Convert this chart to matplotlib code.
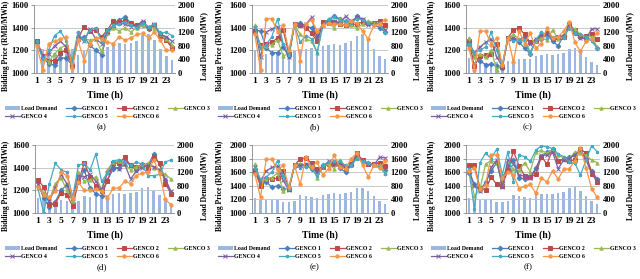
import matplotlib
matplotlib.use("Agg")
import matplotlib.pyplot as plt
from matplotlib.lines import Line2D
from matplotlib.patches import Patch

plt.rcParams["font.family"] = ["Liberation Serif", "DejaVu Serif"]
plt.rcParams["font.weight"] = "bold"

W, H = 640, 279

hours = list(range(1, 25))
xtick_hours = list(range(1, 24, 2))
names = ["GENCO 1", "GENCO 2", "GENCO 3", "GENCO 4", "GENCO 5", "GENCO 6"]
colors = ["#4A7EBB", "#BE4B48", "#98B954", "#7D60A0", "#46AAC5", "#F79646"]
markers = ["D", "s", "^", "x", (6, 2, 0), "o"]
BAR = "#9DB8DE"
GRID = "#BFBFBF"
AXIS = "#868686"

# load demand (MW), one list per case
load_a = [870, 700, 620, 600, 620, 650, 700, 520, 690, 720, 700, 670,
          770, 860, 870, 840, 880, 940, 1110, 1160, 970, 720, 490, 390]
load_b = [680, 560, 560, 540, 560, 600, 620, 640, 700, 720, 740, 720,
          780, 820, 860, 820, 880, 930, 1100, 1160, 960, 720, 500, 400]
load_c = [430, 330, 300, 290, 300, 330, 350, 360, 400, 420, 410, 400,
          490, 530, 550, 530, 560, 600, 720, 740, 630, 480, 330, 250]
load_d = [450, 390, 300, 320, 390, 350, 300, 350, 490, 480, 460, 450,
          520, 560, 590, 570, 590, 620, 750, 770, 650, 520, 360, 280]
load_e = [450, 380, 370, 390, 390, 330, 330, 340, 540, 510, 470, 440,
          520, 550, 580, 560, 580, 610, 730, 750, 640, 490, 340, 260]
load_f = [450, 390, 370, 390, 390, 330, 330, 350, 540, 500, 460, 440,
          520, 550, 570, 560, 580, 620, 740, 760, 640, 490, 340, 260]

# bidding price (RMB/MWh), rows = GENCO 1..6
price_a = [
    [1275, 1140, 1080, 1070, 1135, 1130, 1070, 1290, 1320, 1245, 1200, 1160,
     1350, 1410, 1465, 1495, 1440, 1410, 1420, 1390, 1420, 1350, 1305, 1230],
    [1285, 1150, 1110, 1110, 1180, 1200, 1060, 1300, 1410, 1370, 1380, 1320,
     1380, 1460, 1450, 1460, 1440, 1420, 1440, 1400, 1420, 1330, 1290, 1220],
    [1260, 1130, 1100, 1170, 1220, 1250, 1100, 1300, 1300, 1290, 1300, 1190,
     1350, 1400, 1370, 1400, 1360, 1400, 1420, 1410, 1400, 1340, 1300, 1250],
    [1270, 1140, 1170, 1240, 1280, 1230, 1080, 1340, 1280, 1390, 1300, 1260,
     1360, 1420, 1440, 1430, 1410, 1420, 1460, 1400, 1430, 1340, 1320, 1280],
    [1280, 1120, 1200, 1330, 1370, 1280, 1100, 1360, 1280, 1380, 1400, 1280,
     1380, 1420, 1430, 1450, 1420, 1400, 1440, 1410, 1430, 1350, 1360, 1330],
    [1235, 1030, 1260, 1280, 1300, 1320, 1040, 1290, 1110, 1260, 1310, 1300,
     1270, 1260, 1320, 1290, 1310, 1340, 1350, 1310, 1360, 1290, 1200, 1200],
]
price_b = [
    [1380, 1370, 1220, 1180, 1180, 1230, 1150, 1430, 1440, 1410, 1400, 1330,
     1440, 1470, 1500, 1480, 1460, 1430, 1500, 1470, 1440, 1430, 1400, 1360],
    [1370, 1250, 1260, 1270, 1310, 1380, 1170, 1430, 1420, 1400, 1350, 1280,
     1450, 1440, 1450, 1430, 1420, 1430, 1430, 1450, 1440, 1440, 1460, 1420],
    [1420, 1230, 1240, 1250, 1290, 1150, 1170, 1430, 1340, 1300, 1280, 1180,
     1420, 1440, 1400, 1480, 1430, 1420, 1400, 1430, 1460, 1440, 1440, 1360],
    [1400, 1140, 1360, 1390, 1410, 1240, 1140, 1430, 1420, 1430, 1490, 1300,
     1420, 1460, 1460, 1440, 1500, 1460, 1490, 1480, 1420, 1430, 1430, 1380],
    [1410, 1220, 1250, 1320, 1480, 1260, 1160, 1420, 1270, 1330, 1300, 1180,
     1420, 1480, 1490, 1470, 1460, 1440, 1480, 1470, 1440, 1420, 1440, 1350],
    [1340, 1030, 1480, 1480, 1360, 1420, 1200, 1430, 1110, 1430, 1470, 1370,
     1420, 1440, 1430, 1430, 1420, 1460, 1440, 1370, 1300, 1420, 1430, 1470],
]
price_c = [
    [1250, 1150, 1110, 1070, 1080, 1060, 1040, 1310, 1300, 1270, 1220, 1170,
     1280, 1300, 1340, 1280, 1240, 1330, 1400, 1350, 1320, 1300, 1300, 1220],
    [1280, 1060, 1150, 1160, 1170, 1260, 1050, 1310, 1380, 1400, 1340, 1270,
     1280, 1330, 1350, 1310, 1320, 1320, 1430, 1380, 1330, 1330, 1340, 1300],
    [1310, 1140, 1170, 1140, 1200, 1030, 1080, 1310, 1340, 1300, 1300, 1180,
     1280, 1310, 1290, 1380, 1300, 1330, 1400, 1390, 1340, 1320, 1320, 1230],
    [1270, 1180, 1230, 1270, 1300, 1140, 1060, 1300, 1310, 1290, 1320, 1260,
     1300, 1340, 1340, 1300, 1320, 1330, 1420, 1350, 1310, 1300, 1390, 1390],
    [1260, 1180, 1200, 1230, 1360, 1200, 1060, 1310, 1280, 1290, 1280, 1180,
     1290, 1360, 1310, 1320, 1320, 1310, 1400, 1350, 1340, 1320, 1280, 1220],
    [1220, 1030, 1370, 1370, 1250, 1310, 1070, 1310, 1100, 1370, 1260, 1350,
     1220, 1260, 1400, 1310, 1320, 1370, 1450, 1270, 1190, 1280, 1300, 1350],
]
price_d = [
    [1270, 1130, 1050, 1100, 1200, 1250, 1090, 1270, 1380, 1220, 1170, 1150,
     1290, 1390, 1400, 1460, 1420, 1380, 1430, 1420, 1520, 1430, 1290, 1180],
    [1290, 1230, 1080, 1080, 1180, 1160, 1060, 1280, 1440, 1320, 1240, 1190,
     1280, 1440, 1440, 1490, 1420, 1410, 1420, 1400, 1490, 1440, 1260, 1170],
    [1250, 1180, 1120, 1260, 1310, 1200, 1110, 1360, 1280, 1290, 1320, 1210,
     1380, 1450, 1460, 1430, 1380, 1410, 1420, 1440, 1400, 1380, 1340, 1300],
    [1260, 1140, 1110, 1220, 1340, 1260, 1130, 1330, 1320, 1340, 1280, 1200,
     1350, 1410, 1390, 1430, 1300, 1370, 1400, 1420, 1410, 1380, 1300, 1190],
    [1220, 1000, 1260, 1440, 1380, 1360, 1140, 1420, 1440, 1380, 1520, 1280,
     1350, 1460, 1470, 1450, 1420, 1450, 1430, 1330, 1330, 1340, 1450, 1470],
    [1230, 1160, 1140, 1190, 1360, 1330, 1130, 1270, 1200, 1200, 1210, 1190,
     1130, 1220, 1220, 1280, 1260, 1330, 1350, 1360, 1470, 1350, 1120, 1070],
]
price_e = [
    [1650, 1420, 1460, 1380, 1400, 1360, 1360, 1690, 1700, 1700, 1650, 1620,
     1700, 1700, 1750, 1660, 1600, 1700, 1830, 1770, 1730, 1720, 1740, 1630],
    [1620, 1400, 1500, 1500, 1510, 1620, 1360, 1700, 1800, 1810, 1730, 1640,
     1680, 1720, 1720, 1700, 1660, 1720, 1880, 1780, 1720, 1720, 1740, 1690],
    [1720, 1480, 1500, 1520, 1590, 1330, 1380, 1700, 1730, 1700, 1680, 1520,
     1680, 1720, 1650, 1780, 1680, 1700, 1820, 1770, 1740, 1700, 1700, 1590],
    [1680, 1470, 1620, 1670, 1690, 1480, 1340, 1700, 1700, 1720, 1720, 1600,
     1680, 1760, 1730, 1720, 1680, 1700, 1850, 1760, 1720, 1700, 1820, 1810],
    [1660, 1500, 1530, 1600, 1770, 1540, 1360, 1700, 1660, 1680, 1660, 1540,
     1700, 1750, 1760, 1760, 1700, 1700, 1800, 1760, 1740, 1700, 1680, 1580],
    [1570, 1230, 1790, 1790, 1630, 1700, 1380, 1700, 1420, 1820, 1670, 1750,
     1560, 1650, 1850, 1670, 1650, 1800, 1880, 1710, 1530, 1700, 1660, 1760],
]
price_f = [
    [1590, 1420, 1340, 1450, 1620, 1740, 1460, 1700, 1780, 1520, 1500, 1530,
     1660, 1820, 1900, 1920, 1760, 1790, 1820, 1850, 1930, 1800, 1620, 1500],
    [1700, 1700, 1370, 1340, 1530, 1420, 1400, 1630, 1910, 1690, 1550, 1530,
     1570, 1830, 1720, 1930, 1770, 1790, 1760, 1780, 1940, 1880, 1580, 1460],
    [1650, 1250, 1350, 1720, 1770, 1740, 1430, 1770, 1640, 1630, 1740, 1610,
     1890, 1920, 1880, 1930, 1850, 1810, 1800, 1900, 1880, 1850, 1780, 1740],
    [1650, 1400, 1330, 1420, 1670, 1780, 1380, 1780, 1720, 1560, 1540, 1520,
     1640, 1850, 1850, 1900, 1650, 1780, 1800, 1860, 1920, 1780, 1580, 1480],
    [1640, 1060, 1740, 1880, 1800, 1940, 1560, 1900, 1460, 1850, 1830, 1760,
     1920, 1990, 1970, 1950, 1870, 1830, 1750, 1730, 1560, 1780, 1990, 1900],
    [1620, 1660, 1350, 1410, 1850, 1860, 1510, 1610, 1560, 1360, 1390, 1420,
     1290, 1510, 1460, 1620, 1500, 1640, 1650, 1770, 1960, 1660, 1360, 1230],
]

# panel layout in pixels: (left, right, top, bottom, column offset, price max, tag)
panels = [
    (load_a, price_a, 34, 175, 5, 73, 0, 1600, "(a)"),
    (load_b, price_b, 252, 388, 5, 73, 213, 1600, "(b)"),
    (load_c, price_c, 466, 600, 5, 73, 426, 1600, "(c)"),
    (load_d, price_d, 35, 174, 145, 213, 0, 1600, "(d)"),
    (load_e, price_e, 252, 388, 145, 213, 213, 2000, "(e)"),
    (load_f, price_f, 466, 600, 145, 213, 426, 2000, "(f)"),
]

fig = plt.figure(figsize=(W / 100, H / 100), dpi=100, facecolor="white")


def fx(px):
    return px / W


def fy(py):
    return 1 - py / H


for load, prices, left, right, top, bottom, off, pmax, tag in panels:
    ax = fig.add_axes([fx(left), fy(bottom), fx(right - left),
                       (bottom - top) / H])
    ax2 = ax.twinx()
    ax.set_zorder(ax2.get_zorder() + 1)
    ax.patch.set_visible(False)

    ax2.bar(hours, load, width=0.45, color=BAR, zorder=1)
    ax2.set_ylim(0, 2000)
    ax2.set_yticks(range(0, 2001, 400))

    for i in range(6):
        ax.plot(hours, prices[i], color=colors[i], marker=markers[i],
                markersize=2.4, linewidth=0.9, markeredgewidth=0.7,
                markeredgecolor=colors[i], zorder=3)
    ax.set_ylim(1000, pmax)
    ax.set_yticks(range(1000, pmax + 1, 200))
    ax.set_xlim(0.5, 24.5)
    ax.set_xticks(xtick_hours)
    ax.grid(True, axis="y", color=GRID, linewidth=0.6, zorder=0)

    for a in (ax, ax2):
        for s in a.spines.values():
            s.set_visible(False)
        a.tick_params(length=0, labelsize=6.2)
    for side in ("bottom", "left"):
        ax.spines[side].set_visible(True)
        ax.spines[side].set_color(AXIS)
        ax.spines[side].set_linewidth(0.6)
    ax.tick_params(axis="y", length=2, width=0.6, color=AXIS, pad=1.8)
    ax.tick_params(axis="x", pad=3.0, labelsize=6.8)
    ax2.tick_params(axis="y", pad=2.0)

    fig.text(fx(off + 6.5), fy(top + 41), "Bidding Price (RMB/MWh)",
             rotation=90, ha="center", va="center", fontsize=5.5)
    fig.text(fx(off + 204), fy(top + 41), "Load Demand (MW)",
             rotation=90, ha="center", va="center", fontsize=5.5)
    fig.text(fx((left + right) / 2), fy(bottom + 22), "Time (h)",
             ha="center", va="center", fontsize=7.0)
    fig.text(fx(off + 102), fy(bottom + 54), tag, ha="center",
             va="center", fontsize=6.5, fontweight="normal")

    handles = [Patch(facecolor=BAR, label="Load Demand")]
    for i in range(6):
        handles.append(Line2D([], [], color=colors[i], marker=markers[i],
                              markersize=2.4, linewidth=0.9,
                              markeredgewidth=0.7, label=names[i]))
    # reorder so rows read: LD, G1, G2, G3 / G4, G5, G6
    order = [0, 4, 1, 5, 2, 6, 3]
    ax.legend([handles[k] for k in order],
              [handles[k].get_label() for k in order],
              loc="upper left", bbox_to_anchor=(fx(off + 5), fy(bottom + 33)),
              bbox_transform=fig.transFigure, ncol=4, frameon=False,
              fontsize=4.2, handlelength=2.5, handletextpad=0.2,
              columnspacing=1.6, labelspacing=0.55, borderpad=0,
              borderaxespad=0, numpoints=1)

fig.savefig("out.png", dpi=100, facecolor="white")
